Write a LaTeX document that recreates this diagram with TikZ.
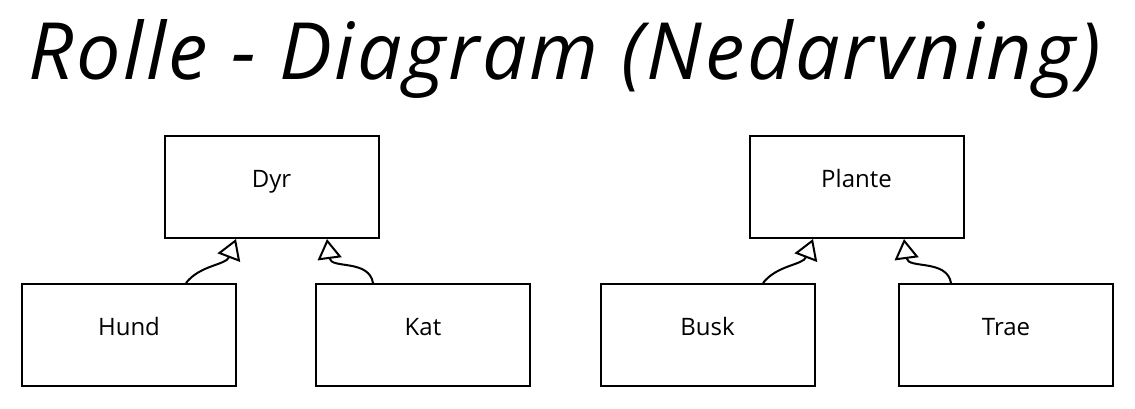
\documentclass[tikz,border=0pt]{standalone}
\usepackage{fontspec}
\setmainfont{Open Sans}
\usetikzlibrary{arrows.meta}
\begin{document}
\begin{tikzpicture}[x=1pt,y=-1pt,
    box/.style={draw,line width=2pt,minimum width=214pt,minimum height=102pt,inner sep=0pt,
      text height=12pt,text depth=12pt,font=\fontsize{24}{24}\selectfont},
    inh/.style={line width=2pt,-{Triangle[open,length=20pt,width=24pt,line width=2pt]}}]
  \useasboundingbox (0,0) rectangle (1135,408);
  \node[anchor=base,font=\fontsize{79}{79}\selectfont\itshape\addfontfeature{LetterSpace=3.4}] (title) at (565,79) {Rolle - Diagram (Nedarvning)};
  % Dyr
  \node[box] (dyr) at (271.5,187) {Dyr};
  \node[box] (hund) at (129,335) {Hund};
  \node[box] (kat) at (423,335) {Kat};
  \draw[inh] ([xshift=57pt]hund.north) .. controls +(14,-18) and +(-10,26) .. ([xshift=-35.5pt]dyr.south);
  \draw[inh] ([xshift=-50pt]kat.north) .. controls +(-4,-24) and +(4,30) .. ([xshift=55.5pt]dyr.south);
  % Plante
  \node[box] (plante) at (856.5,187) {Plante};
  \node[box] (busk) at (707.5,335) {Busk};
  \node[box] (trae) at (1006,335) {Trae};
  \draw[inh] ([xshift=55.5pt]busk.north) .. controls +(14,-18) and +(-10,26) .. ([xshift=-43.5pt]plante.south);
  \draw[inh] ([xshift=-55pt]trae.north) .. controls +(-4,-24) and +(4,30) .. ([xshift=47.5pt]plante.south);
\end{tikzpicture}
\end{document}
